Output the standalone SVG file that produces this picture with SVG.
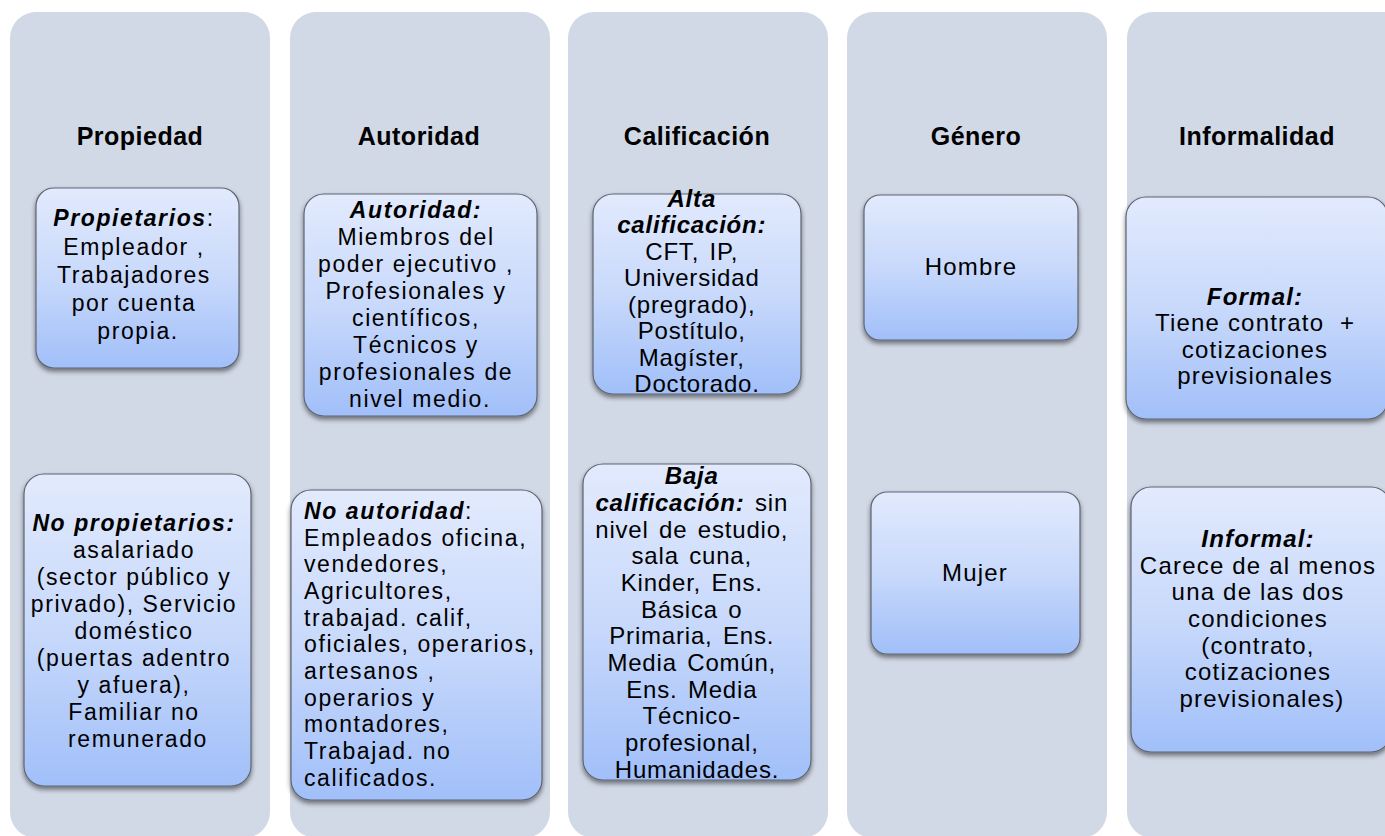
<svg xmlns="http://www.w3.org/2000/svg" width="1385" height="836" viewBox="0 0 1385 836">
<defs>
<linearGradient id="bg" x1="0" y1="0" x2="0" y2="1">
<stop offset="0" stop-color="#e2eafd"/>
<stop offset="0.5" stop-color="#c8d9fb"/>
<stop offset="1" stop-color="#a1bff9"/>
</linearGradient>
<filter id="sh" x="-10%" y="-10%" width="120%" height="125%">
<feGaussianBlur in="SourceAlpha" stdDeviation="2.5"/>
<feOffset dx="0" dy="3" result="b"/>
<feComponentTransfer><feFuncA type="linear" slope="0.5"/></feComponentTransfer>
<feMerge><feMergeNode/><feMergeNode in="SourceGraphic"/></feMerge>
</filter>
<style>
.col{fill:#d2d9e6;}
.box{fill:url(#bg);stroke:#5e6570;stroke-width:1.2;filter:url(#sh);}
.hd{font-family:"Liberation Sans",Arial,sans-serif;font-weight:bold;font-size:25px;letter-spacing:0.5px;fill:#000;text-anchor:middle;}
.t1{font-family:"Liberation Sans",Arial,sans-serif;font-size:23px;letter-spacing:1.6px;fill:#000;text-anchor:middle;}
.t2{font-family:"Liberation Sans",Arial,sans-serif;font-size:23px;letter-spacing:1.6px;fill:#000;}
.t3{font-family:"Liberation Sans",Arial,sans-serif;font-size:24px;letter-spacing:0.8px;word-spacing:3px;fill:#000;text-anchor:middle;}
.t4{font-family:"Liberation Sans",Arial,sans-serif;font-size:24px;letter-spacing:1.2px;fill:#000;text-anchor:middle;}
.bi{font-weight:bold;font-style:italic;}
</style>
</defs>
<rect width="1385" height="836" fill="#ffffff"/>

<g id="col-propiedad">
<rect class="col" x="10" y="12" width="260" height="826" rx="26"/>
<text class="hd" x="140" y="145">Propiedad</text>
</g>
<g id="col-autoridad">
<rect class="col" x="290" y="12" width="260" height="826" rx="26"/>
<text class="hd" x="419" y="145">Autoridad</text>
</g>
<g id="col-calificacion">
<rect class="col" x="568" y="12" width="260" height="826" rx="26"/>
<text class="hd" x="697" y="145">Calificación</text>
</g>
<g id="col-genero">
<rect class="col" x="847" y="12" width="260" height="826" rx="26"/>
<text class="hd" x="976" y="145">Género</text>
</g>
<g id="col-informalidad">
<rect class="col" x="1127" y="12" width="290" height="826" rx="26"/>
<text class="hd" x="1257" y="145">Informalidad</text>
</g>

<g id="connectors"></g>

<g id="propietarios">
<rect class="box" x="36" y="188" width="203" height="180" rx="18"/>
<text class="t1">
<tspan x="138" y="226"><tspan class="bi">Propietarios</tspan>:</tspan>
<tspan x="138" y="255">Empleador ,</tspan>
<tspan x="138" y="283">Trabajadores</tspan>
<tspan x="138" y="311">por cuenta</tspan>
<tspan x="138" y="339">propia.</tspan>
</text>
</g>

<g id="no-propietarios">
<rect class="box" x="24" y="474" width="227" height="312" rx="20"/>
<text class="t1">
<tspan x="138" y="531" class="bi">No propietarios:</tspan>
<tspan x="138" y="558">asalariado</tspan>
<tspan x="138" y="585">(sector público y</tspan>
<tspan x="138" y="612">privado), Servicio</tspan>
<tspan x="138" y="639">doméstico</tspan>
<tspan x="138" y="666">(puertas adentro</tspan>
<tspan x="138" y="693">y afuera),</tspan>
<tspan x="138" y="720">Familiar no</tspan>
<tspan x="138" y="747">remunerado</tspan>
</text>
</g>

<g id="autoridad">
<rect class="box" x="304" y="194" width="233" height="222" rx="20"/>
<text class="t1">
<tspan x="420" y="218" class="bi">Autoridad:</tspan>
<tspan x="420" y="245">Miembros del</tspan>
<tspan x="420" y="272">poder ejecutivo ,</tspan>
<tspan x="420" y="299">Profesionales y</tspan>
<tspan x="420" y="326">científicos,</tspan>
<tspan x="420" y="353">Técnicos y</tspan>
<tspan x="420" y="380">profesionales de</tspan>
<tspan x="420" y="407">nivel medio.</tspan>
</text>
</g>

<g id="no-autoridad">
<rect class="box" x="291" y="490" width="251" height="310" rx="20"/>
<text class="t2">
<tspan x="304" y="519"><tspan class="bi">No autoridad</tspan>:</tspan>
<tspan x="304" y="546">Empleados oficina,</tspan>
<tspan x="304" y="572">vendedores,</tspan>
<tspan x="304" y="599">Agricultores,</tspan>
<tspan x="304" y="626">trabajad. calif,</tspan>
<tspan x="304" y="652">oficiales, operarios,</tspan>
<tspan x="304" y="679">artesanos ,</tspan>
<tspan x="304" y="706">operarios y</tspan>
<tspan x="304" y="732">montadores,</tspan>
<tspan x="304" y="759">Trabajad. no</tspan>
<tspan x="304" y="786">calificados.</tspan>
</text>
</g>

<g id="alta-calificacion">
<rect class="box" x="593" y="194" width="208" height="200" rx="20"/>
<text class="t3">
<tspan x="697" y="207" class="bi">Alta</tspan>
<tspan x="697" y="233" class="bi">calificación:</tspan>
<tspan x="697" y="260">CFT, IP,</tspan>
<tspan x="697" y="286">Universidad</tspan>
<tspan x="697" y="313">(pregrado),</tspan>
<tspan x="697" y="339">Postítulo,</tspan>
<tspan x="697" y="366">Magíster,</tspan>
<tspan x="697" y="392">Doctorado.</tspan>
</text>
</g>

<g id="baja-calificacion">
<rect class="box" x="583" y="464" width="228" height="316" rx="20"/>
<text class="t3">
<tspan x="697" y="484" class="bi">Baja</tspan>
<tspan x="697" y="511"><tspan class="bi">calificación:</tspan> sin</tspan>
<tspan x="697" y="538">nivel de estudio,</tspan>
<tspan x="697" y="564">sala cuna,</tspan>
<tspan x="697" y="591">Kinder, Ens.</tspan>
<tspan x="697" y="618">Básica o</tspan>
<tspan x="697" y="644">Primaria, Ens.</tspan>
<tspan x="697" y="671">Media Común,</tspan>
<tspan x="697" y="698">Ens. Media</tspan>
<tspan x="697" y="724">Técnico-</tspan>
<tspan x="697" y="751">profesional,</tspan>
<tspan x="697" y="778">Humanidades.</tspan>
</text>
</g>

<g id="hombre">
<rect class="box" x="864" y="195" width="214" height="145" rx="16"/>
<text class="t4" x="971" y="275">Hombre</text>
</g>

<g id="mujer">
<rect class="box" x="871" y="492" width="209" height="162" rx="16"/>
<text class="t4" x="975" y="581">Mujer</text>
</g>

<g id="formal">
<rect class="box" x="1126" y="197" width="262" height="222" rx="20"/>
<text class="t4" xml:space="preserve">
<tspan x="1259" y="305" class="bi">Formal:</tspan>
<tspan x="1259" y="331">Tiene contrato  +</tspan>
<tspan x="1259" y="358">cotizaciones</tspan>
<tspan x="1259" y="384">previsionales</tspan>
</text>
</g>

<g id="informal">
<rect class="box" x="1131" y="487" width="260" height="265" rx="20"/>
<text class="t4">
<tspan x="1262" y="547" class="bi">Informal:</tspan>
<tspan x="1262" y="574">Carece de al menos</tspan>
<tspan x="1262" y="600">una de las dos</tspan>
<tspan x="1262" y="627">condiciones</tspan>
<tspan x="1262" y="654">(contrato,</tspan>
<tspan x="1262" y="680">cotizaciones</tspan>
<tspan x="1262" y="707">previsionales)</tspan>
</text>
</g>
</svg>
